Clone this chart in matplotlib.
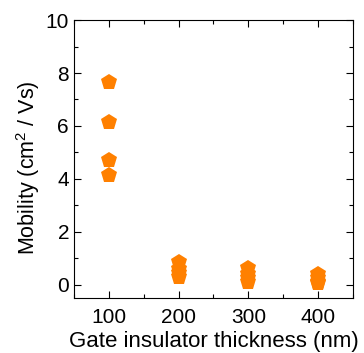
import matplotlib
matplotlib.use("Agg")
import matplotlib.pyplot as plt
from matplotlib.ticker import MultipleLocator

plt.rcParams['font.family'] = ['Liberation Sans', 'DejaVu Sans']
plt.rcParams['mathtext.fontset'] = 'custom'
plt.rcParams['mathtext.rm'] = 'Liberation Sans'
plt.rcParams['mathtext.it'] = 'Liberation Sans'

thickness = [100, 100, 100, 100, 200, 200, 200, 200, 300, 300, 300, 300, 400, 400, 400, 400]
mobility = [7.65, 6.15, 4.72, 4.15, 0.85, 0.6, 0.45, 0.3, 0.62, 0.4, 0.25, 0.1, 0.42, 0.25, 0.12, 0.05]
xticks = [100, 200, 300, 400]
yticks = [0, 2, 4, 6, 8, 10]

fig = plt.figure(figsize=(3.64, 3.53), dpi=100)
ax = fig.add_axes([0.203, 0.156, 0.767, 0.787])
ax.plot(thickness, mobility, linestyle='none', marker='p', markersize=12,
        color='#FF8000', markeredgewidth=0)
ax.set_xlim(50, 450)
ax.set_ylim(-0.5, 10)
ax.set_xticks(xticks)
ax.set_yticks(yticks)
ax.xaxis.set_minor_locator(MultipleLocator(50))
ax.yaxis.set_minor_locator(MultipleLocator(1))
ax.tick_params(which='both', direction='in', top=True, right=True, labelsize=15, width=0.8)
ax.tick_params(axis='x', which='major', pad=7)
ax.tick_params(which='major', length=5)
ax.tick_params(which='minor', length=3)
for s in ax.spines.values():
    s.set_linewidth(0.8)
ax.set_xlabel('Gate insulator thickness (nm)', fontsize=16, labelpad=3)
ax.set_ylabel('Mobility (cm$^2$ / Vs)', fontsize=15.5)
ax.yaxis.set_label_coords(-0.115, 0.47)
fig.savefig('out.png', dpi=100)
